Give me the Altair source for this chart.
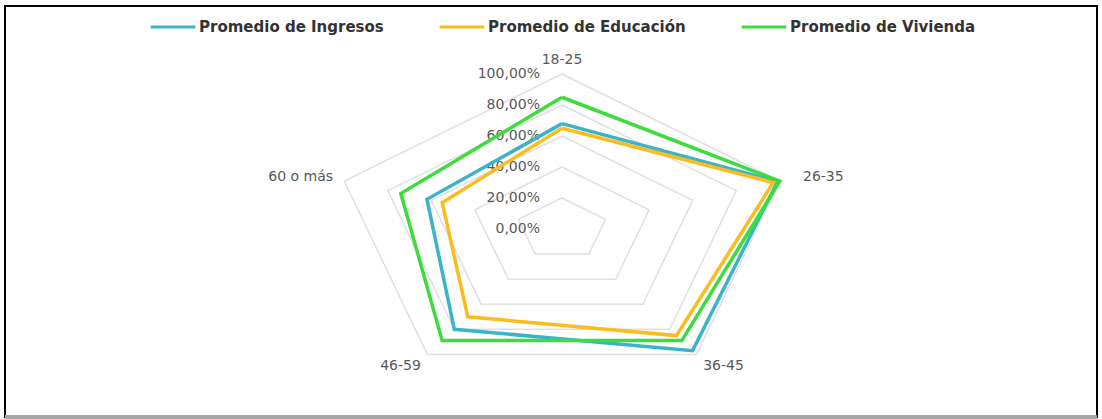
import altair as alt
import pandas as pd

# ---- data ----
categories = ["18-25", "26-35", "36-45", "46-59", "60 o más"]
series_names = ["Promedio de Ingresos", "Promedio de Educación", "Promedio de Vivienda"]
series_colors = ["#3db3c9", "#fbbd1e", "#3cdc3c"]
ingresos = [0.68, 0.99, 0.97, 0.80, 0.62]
educacion = [0.65, 0.97, 0.85, 0.70, 0.55]
vivienda = [0.85, 1.00, 0.89, 0.89, 0.74]
tick_values = [0.0, 0.2, 0.4, 0.6, 0.8, 1.0]
tick_labels = ["0,00%", "20,00%", "40,00%", "60,00%", "80,00%", "100,00%"]

N = len(categories)

rows = []
for name, vals in zip(series_names, [ingresos, educacion, vivienda]):
    for i in range(N + 1):
        k = i % N
        rows.append({"serie": name, "cat": categories[k], "idx": i, "valor": vals[k]})
series_df = pd.DataFrame(rows)

grid_rows = []
for t in tick_values[1:]:
    for i in range(N + 1):
        grid_rows.append({"nivel": t, "idx": i})
grid_df = pd.DataFrame(grid_rows)

tick_df = pd.DataFrame({"nivel": tick_values, "etiqueta": tick_labels})
cat_df = pd.DataFrame({"cat": categories, "idx": list(range(N))})

# ---- layout ----
PAD = {"left": 5, "top": 6, "right": 5, "bottom": 2}
W = 1102 - PAD["left"] - PAD["right"]
H = 419 - PAD["top"] - PAD["bottom"]
CX, CY = 562 - PAD["left"], 229 - PAD["top"]
RX, RY = 229, 155

xs = alt.Scale(domain=[-1, 1], range=[CX - RX, CX + RX])
ys = alt.Scale(domain=[-1, 1], range=[CY + RY, CY - RY])

ang = "datum.idx * 2 * PI / %d" % N

grid = alt.Chart(grid_df).transform_calculate(
    px=f"datum.nivel * sin({ang})", py=f"datum.nivel * cos({ang})"
).mark_line(strokeWidth=1.5, color="#e0e0e0").encode(
    x=alt.X("px:Q", scale=xs, axis=None),
    y=alt.Y("py:Q", scale=ys, axis=None),
    detail="nivel:N",
    order="idx:Q",
)

ticks = alt.Chart(tick_df).transform_calculate(
    px="0", py="datum.nivel"
).mark_text(align="right", baseline="middle", dx=-22, font="DejaVu Sans",
            fontSize=14, color="#595959").encode(
    x=alt.X("px:Q", scale=xs, axis=None),
    y=alt.Y("py:Q", scale=ys, axis=None),
    text="etiqueta:N",
)

lines = alt.Chart(series_df).transform_calculate(
    px=f"datum.valor * sin({ang})", py=f"datum.valor * cos({ang})"
).mark_line(strokeWidth=3.5, strokeJoin="miter").encode(
    x=alt.X("px:Q", scale=xs, axis=None),
    y=alt.Y("py:Q", scale=ys, axis=None),
    color=alt.Color(
        "serie:N",
        scale=alt.Scale(domain=series_names, range=series_colors),
        legend=alt.Legend(
            title=None, orient="none", legendX=144, legendY=-3,
            direction="horizontal", columns=3, symbolType="stroke",
            symbolSize=2000, symbolStrokeWidth=3, labelFont="DejaVu Sans",
            labelFontWeight="bold", labelFontSize=15, labelColor="#333333",
            labelLimit=400, columnPadding=49, labelOffset=2, padding=0,
        ),
    ),
    order="idx:Q",
)

cats = alt.Chart(cat_df).transform_calculate(
    px=f"1.2 * sin({ang})", py=f"1.09 * cos({ang})"
).mark_text(align="center", baseline="middle", font="DejaVu Sans",
            fontSize=14, color="#595959").encode(
    x=alt.X("px:Q", scale=xs, axis=None),
    y=alt.Y("py:Q", scale=ys, axis=None),
    text="cat:N",
)

bottom_edge = alt.Chart(cat_df).mark_rule(color="#a6a6a6", strokeWidth=3).encode(
    x=alt.value(0), x2=alt.value(W), y=alt.value(H)
)

chart = alt.layer(grid, ticks, lines, cats, bottom_edge).properties(
    width=W, height=H, padding=PAD, autosize="none", background="white"
).configure_view(stroke="#000000", strokeWidth=2)

chart.save("out.html", embed_options={"renderer": "svg", "actions": False})
